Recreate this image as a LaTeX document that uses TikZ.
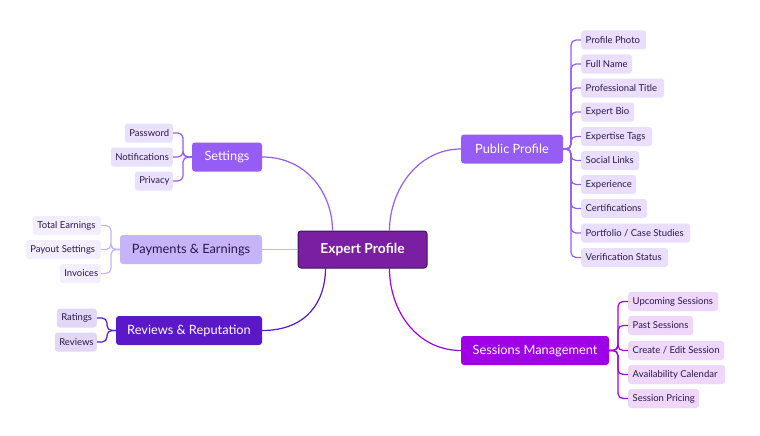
\documentclass[tikz,border=0pt]{standalone}
\usepackage{fontspec}
\setmainfont{Lato}
\definecolor{central}{HTML}{7B1FA2}
\definecolor{centralbd}{HTML}{3A1458}
\definecolor{violet}{HTML}{965CF6}
\definecolor{payfill}{HTML}{C6B4F8}
\definecolor{revfill}{HTML}{5A18C9}
\definecolor{sesfill}{HTML}{A000E6}
\definecolor{pubchild}{HTML}{E9DFFC}
\definecolor{seschild}{HTML}{EED7FB}
\definecolor{setchild}{HTML}{E9E0FB}
\definecolor{paychild}{HTML}{F2EEFD}
\definecolor{revchild}{HTML}{E2D8F5}
\definecolor{txtdark}{HTML}{2A1650}
\newcommand{\leaftext}[2]{\makebox[\dimexpr#1pt-9pt\relax][l]{#2}}
\tikzset{
  box/.style={rounded corners=3pt, inner sep=0pt, align=center},
  branch/.style={box, minimum height=29pt, font=\fontsize{12.8}{14}\selectfont, text=white},
  leaf/.style={rounded corners=3pt, inner ysep=0pt, inner xsep=4.5pt, minimum height=19pt,
    font=\fontsize{9.5}{11}\selectfont, text=txtdark},
  conn/.style={line width=1.2pt},
  brk/.style={line width=1.2pt, rounded corners=5pt},
}
\begin{document}
\begin{tikzpicture}[x=1pt,y=-1pt]
\useasboundingbox[fill=white] (0,0) rectangle (760,436);

% central
\node[box, fill=central, draw=centralbd, line width=1pt, minimum width=129pt, minimum height=37pt,
  font=\fontsize{13.8}{15}\selectfont\bfseries, text=white] (c) at (362.5,249.5) {Expert Profile};

% branches
\node[branch, fill=violet, minimum width=70pt] (set) at (227,157) {Settings};
\node[branch, fill=payfill, text=txtdark, minimum width=142pt] (pay) at (191,249.5) {Payments \& Earnings};
\node[branch, fill=revfill, minimum width=146pt] (rev) at (189,330.5) {Reviews \& Reputation};
\node[branch, fill=violet, minimum width=102pt] (pub) at (512,149) {Public Profile};
\node[branch, fill=sesfill, minimum width=148pt] (ses) at (535,350.5) {Sessions Management};

% central connectors
\draw[conn, violet] (set.east) .. controls (308,157) and ([xshift=-30pt]c.north |- 0,195) .. ([xshift=-30pt]c.north);
\draw[conn, payfill] (pay.east) -- (c.west);
\draw[conn, revfill] (rev.east) .. controls (308,330.5) and ([xshift=-37pt]c.south |- 0,300) .. ([xshift=-37pt]c.south);
\draw[conn, violet] ([xshift=27pt]c.north) .. controls ([xshift=27pt]c.north |- 0,190) and (418,149) .. (pub.west);
\draw[conn, sesfill] ([xshift=27pt]c.south) .. controls ([xshift=27pt]c.south |- 0,312) and (418,350.5) .. (ses.west);

% Public profile leaves
\foreach \n/\t/\w/\y in {p1/{Profile Photo}/65/40, p2/{Full Name}/51/64, p3/{Professional Title}/83/88,
  p4/{Expert Bio}/53/112, p5/{Expertise Tags}/71/136.5, p6/{Social Links}/58/160.5, p7/{Experience}/55/184.5,
  p8/{Certifications}/66/208.5, p9/{Portfolio {/} Case Studies}/109/233, p10/{Verification Status}/87/257.5}{
  \node[leaf, fill=pubchild, anchor=west] (\n) at (581,\y) {\leaftext{\w}{\t}};
  \draw[brk, violet] (pub.east) -- (571,149) |- (\n.west);
}

% Sessions leaves
\foreach \n/\t/\w/\y in {s1/{Upcoming Sessions}/90/301.5, s2/{Past Sessions}/65/325.5,
  s3/{Create {/} Edit Session}/96/350.5, s4/{Availability Calendar}/97/374.5, s5/{Session Pricing}/71/398.5}{
  \node[leaf, fill=seschild, anchor=west] (\n) at (628,\y) {\leaftext{\w}{\t}};
  \draw[brk, sesfill] (ses.east) -- (618,350.5) |- (\n.west);
}

% Settings leaves
\foreach \n/\t/\w/\y in {t1/Password/48/133, t2/Notifications/62/157, t3/Privacy/38/181}{
  \node[leaf, fill=setchild, anchor=east] (\n) at (173,\y) {\leaftext{\w}{\t}};
  \draw[brk, violet] (set.west) -- (183,157) |- (\n.east);
}

% Payments leaves
\foreach \n/\t/\w/\y in {q1/{Total Earnings}/68/225.5, q2/{Payout Settings}/75/249.5, q3/Invoices/41/273.5}{
  \node[leaf, fill=paychild, anchor=east] (\n) at (101,\y) {\leaftext{\w}{\t}};
  \draw[brk, payfill] (pay.west) -- (111,249.5) |- (\n.east);
}

% Reviews leaves
\foreach \n/\t/\w/\y in {r1/Ratings/40/318, r2/Reviews/42/342}{
  \node[leaf, fill=revchild, anchor=east] (\n) at (97,\y) {\leaftext{\w}{\t}};
  \draw[brk, revfill] (rev.west) -- (107,330.5) |- (\n.east);
}
\end{tikzpicture}
\end{document}
